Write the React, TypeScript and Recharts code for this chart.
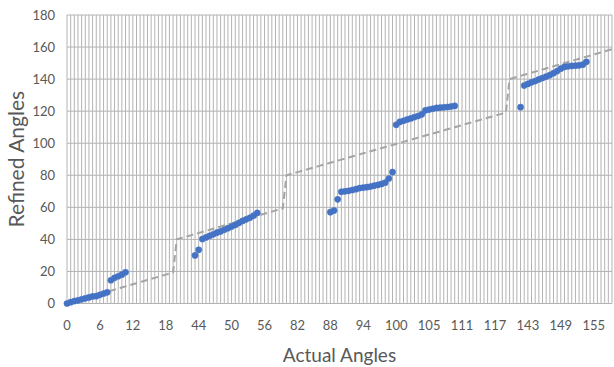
import { CartesianGrid, Line, LineChart, XAxis, YAxis } from "recharts";

// actual angle of each measurement (x categories, also drawn as the dashed line)
const actualAngles: number[] = [
  0, 0.67, 1.33, 2, 2.67, 3.33, 4, 4.67, 5.33, 6, 6.67, 7.33, 8, 8.67, 9.33,
  10, 10.67, 11.33, 12, 12.67, 13.33, 14, 14.67, 15.33, 16, 16.67, 17.33, 18,
  18.67, 19.33,
  40, 40.67, 41.33, 42, 42.67, 43.33, 44, 44.67, 45.33, 46, 46.67, 47.33, 48,
  48.67, 49.33, 50, 50.67, 51.33, 52, 52.67, 53.33, 54, 54.67, 55.33, 56, 56.67,
  57.33, 58, 58.67, 59.33,
  80, 80.65, 81.3, 81.96, 82.61, 83.26, 83.91, 84.56, 85.22, 85.87, 86.52,
  87.17, 87.82, 88.48, 89.13, 89.78, 90.43, 91.08, 91.74, 92.39, 93.04, 93.69,
  94.34, 95, 95.65, 96.3, 96.95, 97.6, 98.26, 98.91, 99.56, 100.21, 100.86,
  101.52, 102.17, 102.82, 103.47, 104.12, 104.78, 105.43, 106.08, 106.73,
  107.38, 108.04, 108.69, 109.34, 109.99, 110.64, 111.3, 111.95, 112.6, 113.25,
  113.9, 114.56, 115.21, 115.86, 116.51, 117.16, 117.82, 118.47, 119.12,
  140, 140.67, 141.33, 142, 142.67, 143.33, 144, 144.67, 145.33, 146, 146.67,
  147.33, 148, 148.67, 149.33, 150, 150.67, 151.33, 152, 152.67, 153.33, 154,
  154.67, 155.33, 156, 156.67, 157.33, 158, 158.67,
];

// refined angle for the same rows, null where nothing was measured
const refinedAngles: (number | null)[] = [
  0, 0.8, 1.5, 2, 2.6, 3.2, 3.8, 4.4, 4.6, 5.4, 6.2, 7,
  14.5, 16, 17, 18, 19.5,
  null, null, null, null, null, null, null, null, null, null, null, null, null,
  null, null, null, null, null,
  30, 33.5,
  40.2, 41.2, 42.2, 43.2, 44.2, 45, 46, 47, 48, 49, 50.3, 51.5, 52.5, 53.5,
  54.8, 56.5,
  null, null, null, null, null, null, null, null, null, null, null, null, null,
  null, null, null, null, null, null,
  57, 58, 65,
  69.7, 70, 70.3, 70.8, 71.3, 72, 72.3, 72.6, 73, 73.5, 74, 74.6, 75.4, 78, 82,
  111.5, 113.3, 114, 114.8, 115.5, 116.3, 117, 118, 120.5, 121, 121.5, 122,
  122.2, 122.4, 122.6, 122.9, 123.3,
  null, null, null, null, null, null, null, null, null, null, null, null, null,
  null, null, null, null,
  122.5,
  136, 137, 138, 138.8, 139.8, 140.7, 141.6, 142.5, 143.7, 145, 146.5, 147.6,
  148, 148.2, 148.4, 148.6, 149, 150.8,
  null, null, null, null, null, null, null,
];

const yTicks = [0, 20, 40, 60, 80, 100, 120, 140, 160, 180];

const data = actualAngles.map((a, i) => ({
  actual: a,
  refined: refinedAngles[i],
}));

const textColor = "#595959";
const gridColor = "#b3b3b3";

// one vertical gridline per category, like Excel's tick-mark gridlines
function categoryGridlines(props: any): number[] {
  const xAxis = props?.xAxis;
  if (xAxis && typeof xAxis.scale === "function") {
    return actualAngles.map((a) => xAxis.scale(a));
  }
  const { left, width } = props.offset;
  return actualAngles.map((_, i) => left + (i * width) / (actualAngles.length - 1));
}

export default function App() {
  return (
    <div
      style={{
        position: "absolute",
        left: 0,
        top: 0,
        width: 614,
        height: 367,
        background: "#ffffff",
        fontFamily: "Lato, sans-serif",
      }}
    >
      <LineChart
        width={614}
        height={367}
        data={data}
        margin={{ top: 15, right: 2, left: 0, bottom: 0 }}
      >
        <CartesianGrid
          stroke={gridColor}
          strokeWidth={1}
          verticalCoordinatesGenerator={categoryGridlines}
        />
        <XAxis
          dataKey="actual"
          type="category"
          interval={8}
          height={63.5}
          tickLine={false}
          axisLine={{ stroke: gridColor }}
          tickMargin={11}
          tick={{ fill: textColor, fontSize: 13 }}
          tickFormatter={(v: number) => String(Math.round(v))}
          label={{
            value: "Actual Angles",
            position: "insideBottom",
            offset: 5,
            fill: textColor,
            fontSize: 19,
          }}
        />
        <YAxis
          width={67}
          domain={[0, 180]}
          ticks={yTicks}
          tickLine={false}
          axisLine={false}
          tickMargin={6}
          tick={{ fill: textColor, fontSize: 13 }}
          label={{
            value: "Refined Angles",
            angle: -90,
            position: "insideLeft",
            offset: 17,
            fill: textColor,
            fontSize: 21,
            style: { textAnchor: "middle" },
          }}
        />
        <Line
          dataKey="actual"
          stroke="#a5a5a5"
          strokeWidth={2}
          strokeDasharray="7 4"
          dot={false}
          activeDot={false}
          isAnimationActive={false}
        />
        <Line
          dataKey="refined"
          stroke="none"
          dot={{ r: 3.1, fill: "#4472C4", stroke: "#4472C4", strokeWidth: 0.5 }}
          activeDot={false}
          isAnimationActive={false}
        />
      </LineChart>
    </div>
  );
}
